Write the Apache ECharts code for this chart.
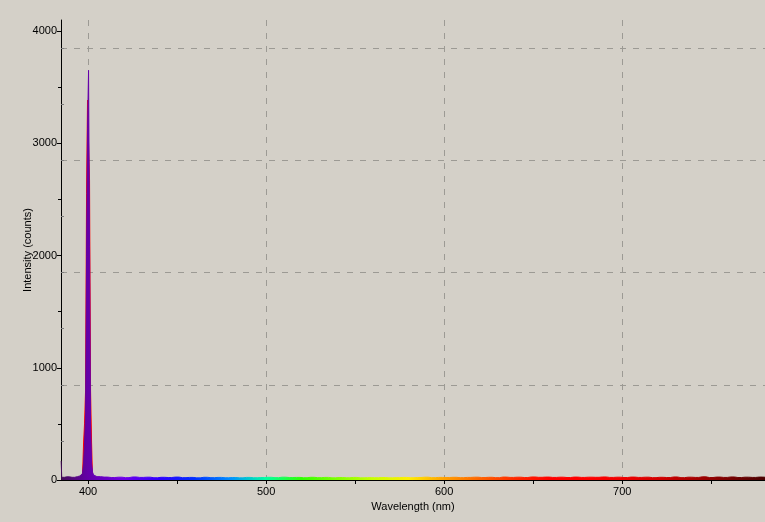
<!DOCTYPE html>
<html><head><meta charset="utf-8">
<script src="https://cdn.jsdelivr.net/npm/echarts@6/dist/echarts.min.js"></script>
<style>html,body{margin:0;padding:0;background:#d4d0c8;}#c{width:765px;height:522px;}</style>
</head><body><div id="c"></div>
<script>
// Spectrum (rainbow-coloured) – wavelength (nm) and intensity (counts)
const wavelengths = [384.9, 385.5, 388, 391, 394, 395.5, 396.6, 397.2, 397.75, 398.3, 398.9, 399.4, 400.0, 400.56, 401.1, 401.7, 402.25, 402.8, 403.4,
  405, 409, 413, 417, 421, 425, 429, 433, 437, 441, 445, 449, 453, 457, 461, 465, 469, 473, 477, 481, 485, 489, 493, 497,
  501, 505, 509, 513, 517, 521, 525, 529, 533, 537, 541, 545, 549, 553, 557, 561, 565, 569, 573, 577, 581, 585, 589, 593, 597,
  601, 605, 609, 613, 617, 621, 625, 629, 633, 637, 641, 645, 649, 653, 657, 661, 665, 669, 673, 677, 681, 685, 689, 693, 697,
  701, 705, 709, 713, 717, 721, 725, 729, 733, 737, 741, 745, 749, 753, 757, 761, 765, 769, 773, 777, 780.5];
const intensity = [170, 24, 28, 24, 30, 36, 40, 60, 150, 330, 600, 1990, 3130, 3650, 2080, 500, 150, 70, 45,
  30, 26, 22, 25, 21, 27, 23, 25, 20, 24, 22, 26, 21, 23, 19, 24, 21, 23, 20, 22, 19, 23, 20, 22,
  24, 21, 25, 22, 23, 20, 24, 21, 23, 19, 22, 20, 23, 19, 21, 20, 22, 19, 21, 23, 20, 22, 25, 21, 23,
  22, 24, 21, 23, 25, 22, 24, 21, 26, 23, 25, 22, 27, 24, 26, 23, 25, 22, 26, 23, 25, 24, 27, 23, 25,
  22, 26, 23, 25, 21, 24, 22, 27, 21, 25, 23, 28, 22, 26, 23, 27, 22, 25, 23, 26, 24];
// Second (red) spectrum, visible only around the 400 nm line
const refWavelengths = [396.6, 397.2, 397.75, 398.3, 398.9, 399.4, 400.0, 400.56, 401.1, 401.7, 402.25, 402.8];
const refIntensity   = [0, 40, 330, 500, 800, 2550, 3385, 3000, 2670, 800, 330, 0];

const xMajorTicks = [400, 500, 600, 700];
const xMinorTicks = [450, 550, 650, 750];
const yMajorTicks = [0, 1000, 2000, 3000, 4000];
const yMinorTicks = [500, 1500, 2500, 3500];
const yOffsetTicks = [348, 848, 1348, 1848, 2348, 2848, 3348, 3848];
const yGridValues = [848, 1848, 2848, 3848];

const X_MIN = 384.8, X_MAX = 780.2, Y_MIN = 0, Y_MAX = 4098;
const FONT = 'Liberation Sans';
const gridDash = { color: '#9c9a94', width: 1, type: [6, 7] };
const plain = v => String(v);

function hiddenX(extra) {
  return Object.assign({ type: 'value', min: X_MIN, max: X_MAX, position: 'bottom', axisLine: { show: false },
    axisLabel: { show: false }, splitLine: { show: false } }, extra);
}
function hiddenY(extra) {
  return Object.assign({ type: 'value', min: Y_MIN, max: Y_MAX, position: 'left', axisLine: { show: false },
    axisLabel: { show: false }, splitLine: { show: false } }, extra);
}

const chart = echarts.init(document.getElementById('c'), null, { renderer: 'canvas' });
chart.setOption({
  animation: false,
  backgroundColor: '#d4d0c8',
  textStyle: { fontFamily: FONT },
  grid: { left: 61, top: 20, right: 0, bottom: 42, containLabel: false },
  xAxis: [
    { type: 'value', min: X_MIN, max: X_MAX, position: 'bottom',
      name: 'Wavelength (nm)', nameLocation: 'middle', nameGap: 21, nameMoveOverlap: false,
      nameTextStyle: { color: '#000', fontSize: 11, fontFamily: FONT },
      axisLine: { show: true, lineStyle: { color: '#000', width: 1 } },
      axisTick: { show: true, customValues: xMajorTicks, length: 4, lineStyle: { color: '#000' } },
      axisLabel: { customValues: xMajorTicks, formatter: plain, color: '#000', fontSize: 11, fontFamily: FONT, margin: 6 },
      splitLine: { show: true, lineStyle: gridDash } },
    hiddenX({ axisTick: { show: true, customValues: xMinorTicks, length: 4, lineStyle: { color: '#000' } } })
  ],
  yAxis: [
    { type: 'value', min: Y_MIN, max: Y_MAX, position: 'left',
      name: 'Intensity (counts)', nameLocation: 'middle', nameGap: 28, nameMoveOverlap: false,
      nameTextStyle: { color: '#000', fontSize: 11, fontFamily: FONT },
      axisLine: { show: true, lineStyle: { color: '#000', width: 1 } },
      axisTick: { show: true, customValues: yMajorTicks, length: 4, lineStyle: { color: '#000' } },
      axisLabel: { customValues: yMajorTicks, formatter: plain, color: '#000', fontSize: 11, fontFamily: FONT, margin: 4 },
      splitLine: { show: false } },
    hiddenY({ axisTick: { show: true, customValues: yMinorTicks, length: 3, lineStyle: { color: '#000' } } }),
    hiddenY({ axisTick: { show: true, inside: true, customValues: yOffsetTicks, length: 3, lineStyle: { color: '#7a7a7a' } } }),
    hiddenY({ axisTick: { show: false, customValues: yGridValues }, splitLine: { show: true, lineStyle: gridDash } })
  ],
  visualMap: {
    type: 'continuous', show: false, dimension: 0, seriesIndex: 1, min: 380, max: 780,
    inRange: { color: ['#3c1040', '#6400a8', '#7000e8', '#3000ff', '#0030ff', '#0090ff', '#00ffa0', '#30ff00',
      '#80ff00', '#c8ff00', '#ffee00', '#ffa000', '#ff6400', '#ff2800', '#ff0000', '#ff0000', '#f00000',
      '#d40000', '#a80000', '#780000', '#4a0000'] }
  },
  series: [
    { name: 'reference', type: 'line', step: 'middle', symbol: 'none', z: 2,
      data: refWavelengths.map((w, i) => [w, refIntensity[i]]),
      lineStyle: { color: '#ff0000', width: 1 }, itemStyle: { color: '#ff0000' },
      areaStyle: { color: '#ff0000', opacity: 1 } },
    { name: 'spectrum', type: 'line', step: 'middle', symbol: 'none', z: 3,
      data: wavelengths.map((w, i) => [w, intensity[i]]),
      lineStyle: { width: 1 }, areaStyle: { opacity: 1 } }
  ]
});
</script></body></html>
